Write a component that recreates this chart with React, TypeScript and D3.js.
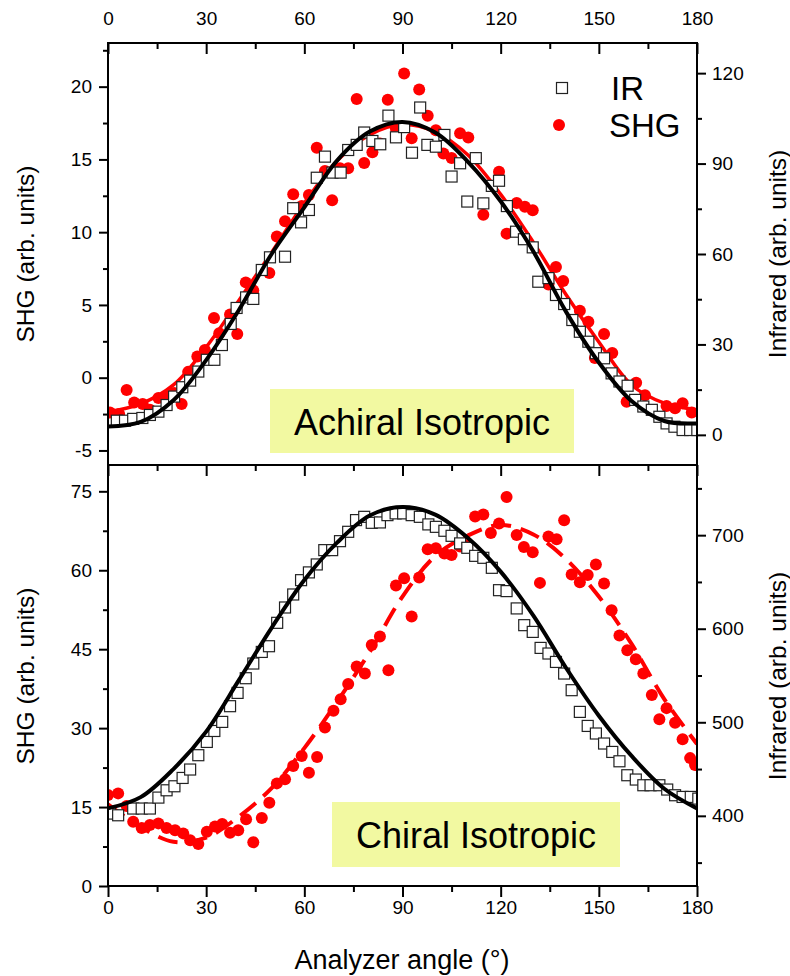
import React, { useEffect, useRef } from "react";
import * as d3 from "d3";

// analyzer angle axis
const angleTicks = [0, 30, 60, 90, 120, 150, 180];
const angleMinor = [15, 45, 75, 105, 135, 165];
const fitAngles = [0, 10, 20, 30, 40, 50, 60, 70, 80, 90, 100, 110, 120, 130, 140, 150, 160, 170, 180];

// top panel: achiral isotropic  [angle, value]
const topIR = [
  [2.7, 4.7], [5.2, 4.7], [7.7, 5.3], [10.5, 5.6], [12.8, 6.6], [15.4, 7.7], [17.9, 9.9], [20.2, 12.7],
  [22.7, 15.8], [25.1, 18.0], [27.6, 21.0], [30.2, 24.9], [32.5, 24.9], [34.8, 29.8], [37.5, 36.8],
  [39.3, 42.1], [42.2, 45.6], [44.4, 45.1], [47.0, 54.7], [49.5, 58.9], [54.1, 59.1], [56.6, 75.2],
  [59.0, 70.5], [61.4, 74.6], [63.8, 85.3], [66.3, 92.3], [68.6, 87.0], [71.1, 87.0], [73.4, 94.5],
  [76.0, 96.2], [78.3, 100.3], [80.8, 97.5], [83.2, 96.4], [85.7, 105.9], [88.0, 98.7], [90.5, 102.1],
  [92.9, 93.6], [95.4, 108.6], [97.6, 96.2], [100.2, 95.6], [102.8, 99.5], [105.0, 85.7], [107.6, 90.1],
  [109.8, 77.4], [112.4, 91.8], [114.7, 76.8], [117.3, 82.6], [119.5, 84.3], [121.9, 75.9], [124.7, 67.4],
  [127.1, 64.9], [129.8, 62.2], [131.5, 50.8], [134.6, 52.0], [136.9, 46.4], [139.4, 43.4], [141.9, 38.1],
  [144.2, 34.2], [146.8, 30.9], [149.1, 27.1], [151.6, 25.4], [153.9, 20.4], [156.3, 17.7], [158.8, 16.3],
  [161.1, 11.6], [163.6, 9.4], [166.2, 8.3], [168.5, 6.0], [170.7, 3.8], [173.1, 2.7], [175.6, 1.6],
  [177.9, 1.6], [180.1, 1.6],
];
const topSHG = [
  [0.6, -2.4], [3.4, -2.5], [5.7, -0.84], [8.0, -1.7], [10.6, -1.8], [12.8, -2.2], [15.4, -1.4], [17.9, -1.3],
  [20.2, -1.05], [22.5, -1.8], [24.5, 0.4], [27.3, 1.45], [29.6, 1.9], [32.4, 4.1], [34.0, 3.05], [37.3, 4.35],
  [39.5, 3.0], [42.1, 6.55], [44.4, 6.0], [49.3, 7.2], [51.6, 9.7], [54.1, 10.75], [56.6, 12.6], [59.2, 11.8],
  [61.4, 12.55], [63.8, 15.8], [66.3, 14.2], [68.5, 12.2], [70.9, 14.4], [73.4, 14.4], [76.0, 19.15],
  [78.3, 14.75], [80.8, 15.5], [83.1, 16.1], [85.5, 19.1], [88.0, 17.1], [90.5, 20.9], [92.8, 16.45],
  [95.1, 19.8], [97.7, 18.0], [100.2, 17.0], [102.5, 15.4], [105.0, 15.1], [107.6, 16.8], [110.1, 16.5],
  [112.4, 15.1], [114.7, 11.2], [119.5, 14.15], [121.8, 9.9], [124.9, 12.0], [127.4, 11.75], [129.8, 11.5],
  [134.6, 6.4], [136.9, 7.6], [139.1, 6.65], [144.2, 4.6], [146.8, 3.85], [148.8, 1.35], [151.6, 3.0],
  [154.1, 1.7], [158.5, -1.65], [161.4, -0.35], [164.1, -1.2], [170.7, -1.95], [173.3, -2.1], [175.6, -1.75],
  [178.4, -2.4],
];
const topIRFit = [2.8, 4.3, 11.5, 24.8, 41.4, 60.0, 75.5, 91.0, 100.6, 103.8, 100.3, 90.6, 77.5, 60.8, 40.8, 24.0, 11.2, 4.6, 3.8];
const topSHGFit = [-2.35, -1.8, -0.5, 2.1, 5.3, 8.6, 12.0, 14.9, 16.7, 17.4, 16.9, 15.3, 12.6, 9.3, 5.7, 2.45, -0.5, -1.75, -2.2];

// bottom panel: chiral isotropic  [angle, value]
const botIR = [
  [0.6, 402.4], [3.1, 400.6], [7.7, 407.8], [10.3, 407.8], [12.8, 407.8], [15.4, 419.5], [17.9, 427.3],
  [20.3, 431.6], [22.8, 440.5], [25.1, 449.5], [27.6, 464.8], [30.2, 479.0], [32.5, 490.7], [34.9, 500.4],
  [37.3, 517.2], [39.6, 531.4], [42.1, 547.1], [44.4, 562.8], [47.0, 575.2], [49.2, 581.3], [51.7, 606.3],
  [54.1, 622.7], [56.6, 636.6], [59.0, 651.9], [61.4, 660.2], [63.8, 668.7], [66.1, 684.0], [68.5, 684.0],
  [70.9, 693.6], [73.4, 703.6], [75.8, 716.1], [78.3, 719.6], [80.6, 713.2], [83.1, 713.6], [85.4, 721.4],
  [87.9, 723.3], [90.2, 723.3], [92.8, 721.4], [95.3, 719.6], [97.9, 711.5], [100.2, 708.9], [102.8, 704.7],
  [105.0, 699.3], [107.6, 691.2], [109.8, 686.5], [112.2, 677.9], [114.7, 675.8], [117.3, 665.1],
  [119.5, 641.2], [121.8, 640.2], [124.9, 621.7], [127.2, 603.8], [129.8, 596.6], [132.2, 579.5],
  [134.6, 573.5], [136.9, 564.5], [139.4, 552.1], [141.7, 534.3], [144.2, 511.1], [146.6, 496.1],
  [149.1, 488.0], [151.6, 477.3], [154.1, 468.3], [156.3, 458.3], [158.7, 443.4], [161.3, 438.8],
  [163.6, 432.7], [165.8, 432.7], [168.5, 432.7], [170.9, 428.1], [173.3, 422.0], [175.6, 420.2],
  [178.1, 420.2], [180.4, 418.4],
];
const botSHG = [
  [0.0, 17.3], [3.1, 17.6], [5.7, 15.2], [7.7, 12.2], [10.3, 11.0], [12.8, 11.6], [15.4, 11.9], [17.9, 11.0],
  [20.5, 10.6], [23.0, 10.0], [25.1, 8.7], [27.6, 8.0], [30.2, 10.3], [32.7, 11.3], [34.9, 11.8], [37.3, 10.1],
  [39.8, 10.6], [42.2, 12.7], [44.4, 8.3], [47.0, 12.9], [49.3, 15.8], [51.6, 19.5], [54.1, 20.3],
  [56.6, 22.8], [59.2, 24.7], [61.4, 21.5], [63.9, 24.5], [66.3, 30.1], [68.9, 33.3], [71.1, 35.5],
  [73.4, 38.4], [76.0, 41.7], [78.5, 40.4], [80.6, 45.8], [83.1, 47.4], [85.7, 41.0], [88.0, 57.1],
  [90.5, 58.5], [92.8, 51.2], [95.1, 58.6], [97.7, 64.0], [100.2, 64.2], [102.8, 63.2], [105.0, 62.9],
  [107.6, 64.5], [109.8, 64.8], [112.2, 70.2], [114.7, 70.6], [117.0, 67.1], [119.5, 68.9], [121.8, 73.9],
  [124.9, 66.7], [127.1, 64.4], [129.8, 63.4], [132.0, 57.6], [134.6, 66.4], [137.1, 65.9], [139.4, 69.5],
  [141.7, 59.2], [144.2, 57.7], [146.6, 59.1], [149.1, 61.1], [151.6, 57.5], [153.9, 52.4], [156.3, 47.6],
  [158.7, 44.8], [161.3, 43.1], [163.6, 40.4], [166.2, 36.3], [168.5, 31.7], [170.7, 33.8], [173.3, 31.0],
  [175.6, 27.9], [177.9, 24.3], [179.4, 23.0],
];
const botIRFit = [408, 420, 450, 490, 545, 601, 652, 692, 721, 730, 722, 697, 661, 614, 558, 507, 464, 429, 408];
const botSHGFit = [15.5, 11.2, 8.4, 9.2, 13.2, 18.6, 26.2, 35.0, 44.5, 55.0, 62.7, 66.6, 68.6, 66.8, 62.1, 55.0, 46.0, 35.5, 27.0];

// tick labels
const topShgTicks = [-5, 0, 5, 10, 15, 20];
const topShgMinor = [-2.5, 2.5, 7.5, 12.5, 17.5, 22.5];
const topIrTicks = [0, 30, 60, 90, 120];
const topIrMinor = [15, 45, 75, 105];
const botShgTicks = [0, 15, 30, 45, 60, 75];
const botShgMinor = [7.5, 22.5, 37.5, 52.5, 67.5];
const botIrTicks = [400, 500, 600, 700];
const botIrMinor = [350, 450, 550, 650, 750];

const FONT = "Arial, 'Liberation Sans', Helvetica, sans-serif";
const X0 = 108, X1 = 697, TOP = 43, MID = 465, BOT = 886;

export default function App() {
  const ref = useRef<SVGSVGElement>(null);

  useEffect(() => {
    const svg = d3.select(ref.current);
    svg.selectAll("*").remove();

    const x = d3.scaleLinear().domain([0, 180]).range([X0, X1]);

    const drawAxis = (orient, scale, pos, majors, minors, majorLen, minorLen, pad, labels) => {
      const make = { left: d3.axisLeft, right: d3.axisRight, top: d3.axisTop, bottom: d3.axisBottom }[orient];
      const tr = orient === "left" || orient === "right" ? `translate(${pos},0)` : `translate(0,${pos})`;
      const gMinor = svg.append("g").attr("transform", tr)
        .call(make(scale).tickValues(minors).tickSize(minorLen).tickFormat(() => ""));
      const gMajor = svg.append("g").attr("transform", tr)
        .call(make(scale).tickValues(majors).tickSize(majorLen).tickPadding(pad)
          .tickFormat((d) => (labels ? String(d) : "")));
      [gMinor, gMajor].forEach((g) => {
        g.select(".domain").remove();
        g.selectAll("line").attr("stroke", "#000").attr("stroke-width", 2);
        g.selectAll("text").attr("font-family", FONT).attr("font-size", 19).attr("fill", "#000");
      });
    };

    const panel = (id, y0, y1, yShg, yIr, irPts, shgPts, irFit, shgFit, dashed) => {
      svg.append("clipPath").attr("id", id).append("rect")
        .attr("x", X0).attr("y", y0).attr("width", X1 - X0).attr("height", y1 - y0);
      const g = svg.append("g").attr("clip-path", `url(#${id})`);

      g.selectAll("circle.shg").data(shgPts).join("circle")
        .attr("cx", (d) => x(d[0])).attr("cy", (d) => yShg(d[1])).attr("r", 6).attr("fill", "#ff0000");

      const shgLine = d3.line().curve(d3.curveCatmullRom.alpha(0.5))
        .x((d, i) => x(fitAngles[i])).y((d) => yShg(d));
      g.append("path").attr("d", shgLine(shgFit)).attr("fill", "none").attr("stroke", "#ff0000")
        .attr("stroke-width", dashed ? 4 : 3.5).attr("stroke-dasharray", dashed ? "20,10" : null);

      g.selectAll("rect.ir").data(irPts).join("rect")
        .attr("x", (d) => x(d[0]) - 5.5).attr("y", (d) => yIr(d[1]) - 5.5)
        .attr("width", 11).attr("height", 11)
        .attr("fill", "#fff").attr("stroke", "#222").attr("stroke-width", 1.2);

      const irLine = d3.line().curve(d3.curveCatmullRom.alpha(0.5))
        .x((d, i) => x(fitAngles[i])).y((d) => yIr(d));
      g.append("path").attr("d", irLine(irFit)).attr("fill", "none").attr("stroke", "#000").attr("stroke-width", 4);
    };

    // top panel
    const yShgTop = d3.scaleLinear().domain([-6, 23]).range([MID, TOP]);
    const yIrTop = d3.scaleLinear().domain([-10, 130]).range([MID, TOP]);
    panel("clipTop", TOP, MID, yShgTop, yIrTop, topIR, topSHG, topIRFit, topSHGFit, false);

    // bottom panel
    const yShgBot = d3.scaleLinear().domain([0, 80]).range([BOT, MID]);
    const yIrBot = d3.scaleLinear().domain([325, 775]).range([BOT, MID]);
    panel("clipBot", MID, BOT, yShgBot, yIrBot, botIR, botSHG, botIRFit, botSHGFit, true);

    // annotation boxes
    const boxes = [
      { x: 270, y: 389, w: 304, h: 64, label: "Achiral Isotropic" },
      { x: 332, y: 802, w: 288, h: 65, label: "Chiral Isotropic" },
    ];
    boxes.forEach((b) => {
      svg.append("rect").attr("x", b.x).attr("y", b.y).attr("width", b.w).attr("height", b.h).attr("fill", "#f2f9a1");
      svg.append("text").attr("x", b.x + b.w / 2).attr("y", b.y + 46).attr("text-anchor", "middle")
        .attr("font-family", FONT).attr("font-size", 36).text(b.label);
    });

    // legend
    svg.append("rect").attr("x", 556.5).attr("y", 82.5).attr("width", 11).attr("height", 11)
      .attr("fill", "#fff").attr("stroke", "#222").attr("stroke-width", 1.2);
    svg.append("text").attr("x", 611).attr("y", 100).attr("font-family", FONT).attr("font-size", 33).text("IR");
    svg.append("circle").attr("cx", 559).attr("cy", 125).attr("r", 6).attr("fill", "#ff0000");
    svg.append("text").attr("x", 609).attr("y", 137).attr("font-family", FONT).attr("font-size", 33).text("SHG");

    // frames
    [[TOP, MID], [MID, BOT]].forEach(([a, b]) => {
      svg.append("rect").attr("x", X0).attr("y", a).attr("width", X1 - X0).attr("height", b - a)
        .attr("fill", "none").attr("stroke", "#000").attr("stroke-width", 2);
    });

    // axes
    drawAxis("top", x, TOP, angleTicks, angleMinor, -11, -6, 18, true);
    drawAxis("top", x, MID, angleTicks, angleMinor, -11, -6, 4, false);
    drawAxis("bottom", x, BOT, angleTicks, angleMinor, 11, 6, 4, true);
    drawAxis("left", yShgTop, X0, topShgTicks, topShgMinor, 9, 5, 7, true);
    drawAxis("right", yIrTop, X1, topIrTicks, topIrMinor, 9, 5, 6, true);
    drawAxis("left", yShgBot, X0, botShgTicks, botShgMinor, 9, 5, 7, true);
    drawAxis("right", yIrBot, X1, botIrTicks, botIrMinor, 9, 5, 6, true);

    // axis titles
    const yTitle = (tx, ty, label) =>
      svg.append("text").attr("transform", `translate(${tx},${ty}) rotate(-90)`).attr("text-anchor", "middle")
        .attr("dy", "0.35em").attr("font-family", FONT).attr("font-size", 24.5).text(label);
    yTitle(25, 254, "SHG (arb. units)");
    yTitle(25, 676, "SHG (arb. units)");
    yTitle(777, 254, "Infrared (arb. units)");
    yTitle(777, 676, "Infrared (arb. units)");
    svg.append("text").attr("x", 402).attr("y", 969).attr("text-anchor", "middle")
      .attr("font-family", FONT).attr("font-size", 27).text("Analyzer angle (°)");
  }, []);

  return <svg ref={ref} width={790} height={976} style={{ position: "absolute", left: 0, top: 0, background: "#fff" }} />;
}
